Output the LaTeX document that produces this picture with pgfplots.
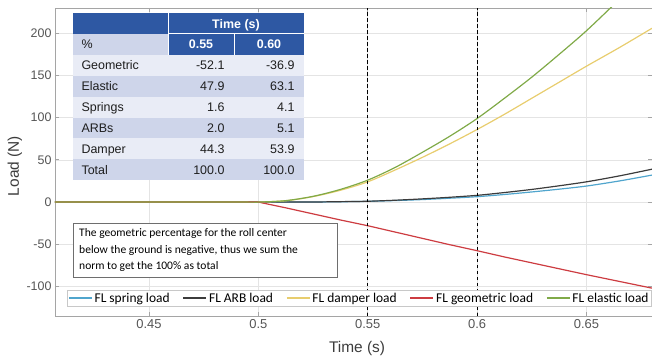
\documentclass[border=0pt]{standalone}
\usepackage{fontspec}
\setmainfont{Liberation Sans}
\newfontfamily\calfont{Carlito}
\usepackage{pgfplots}
\usepackage{pgfplotstable}
\pgfplotsset{compat=1.18}

\definecolor{cspring}{RGB}{80,165,205}
\definecolor{carb}{RGB}{60,60,60}
\definecolor{cdamper}{RGB}{232,205,110}
\definecolor{cgeo}{RGB}{205,60,65}
\definecolor{celastic}{RGB}{128,170,72}
\definecolor{gridc}{RGB}{228,228,228}
\definecolor{axc}{RGB}{165,165,165}
\definecolor{tickc}{RGB}{85,85,85}
\definecolor{labc}{RGB}{60,60,60}
\definecolor{legc}{RGB}{200,200,200}
\definecolor{hdr}{RGB}{46,88,163}
\definecolor{bandA}{RGB}{233,236,246}
\definecolor{bandB}{RGB}{206,213,234}
\definecolor{txt}{RGB}{30,30,30}
\definecolor{boxc}{RGB}{110,110,110}

\pgfplotstableread{
t v
0.407 0
0.49 0
0.5 0
0.5125 0.02
0.525 0.1
0.5375 0.4
0.55 0.9
0.5625 1.8
0.575 3.0
0.5875 4.6
0.6 6.4
0.6125 9.0
0.625 12.0
0.6375 15.3
0.65 19.0
0.665 25.0
0.68 32.0
}\spring

\pgfplotstableread{
t v
0.407 0
0.49 0
0.5 0
0.5125 0.02
0.525 0.1
0.5375 0.5
0.55 1.0
0.5625 2.2
0.575 3.8
0.5875 5.7
0.6 8.0
0.6125 11.3
0.625 15.0
0.6375 19.3
0.65 24.0
0.665 31.0
0.68 39.0
}\arb

\pgfplotstableread{
t v
0.407 0
0.49 0
0.5 0
0.5125 1.6
0.525 6.5
0.5375 14
0.55 24
0.5625 38
0.575 53
0.5875 69
0.6 86
0.6125 104
0.625 123
0.6375 142
0.65 161
0.665 183
0.68 206
}\damper

\pgfplotstableread{
t v
0.407 0
0.5 0
0.5125 -6.8
0.525 -14
0.5375 -21.2
0.55 -28
0.5625 -35.5
0.575 -43
0.5875 -50.5
0.6 -57.6
0.6125 -65
0.625 -72
0.6375 -79
0.65 -86
0.665 -94
0.68 -102
}\geo

\pgfplotstableread{
t v
0.407 0
0.49 0
0.5 0
0.5125 1.7
0.525 6.8
0.5375 15
0.55 26
0.5625 41
0.575 59
0.5875 78
0.6 99
0.6125 123
0.625 148
0.6375 175
0.65 203
0.665 240
0.68 277
}\elastic

\begin{document}
\begin{tikzpicture}
\begin{axis}[
  at={(0,0)}, anchor=south west,
  scale only axis, width=597bp, height=308bp,
  xmin=0.407, xmax=0.68, ymin=-135, ymax=230,
  xtick={0.45,0.5,0.55,0.6,0.65},
  xticklabels={0.45,0.5,0.55,0.6,0.65},
  ytick={-100,-50,0,50,100,150,200},
  grid=major,
  grid style={color=gridc, line width=0.6bp},
  axis line style={color=axc, line width=0.8bp},
  tick style={color=axc, line width=0.8bp},
  major tick length=4bp,
  tick align=inside,
  /pgf/number format/assume math mode=true,
  xticklabel style={font=\fontsize{13}{15}\selectfont, text=tickc},
  yticklabel style={font=\fontsize{12.5}{15}\selectfont, text=tickc},
  xlabel={Time (s)}, ylabel={Load (N)},
  label style={font=\fontsize{15.5}{17}\selectfont, text=labc},
  xlabel style={at={(axis description cs:0.506,-0.104)}, anchor=center},
  ylabel style={at={(axis description cs:-0.067,0.487)}, anchor=center},
  legend columns=5,
  legend style={at={(0.0201,0.0844)}, anchor=north west, draw=legc, fill=white,
    font=\calfont\fontsize{13.5}{14}\selectfont,
    inner xsep=1bp, inner ysep=0.5bp,
    /tikz/every even column/.append style={column sep=11bp}},
]
\addplot[draw=cspring, line width=1.2bp, smooth,
  legend image code/.code={\draw[cspring, line width=1.4bp] (0bp,0bp) -- (23bp,0bp);}] table[x=t,y=v]{\spring};
\addlegendentry{FL spring load}
\addplot[draw=carb, line width=1.2bp, smooth,
  legend image code/.code={\draw[carb, line width=1.4bp] (0bp,0bp) -- (23bp,0bp);}] table[x=t,y=v]{\arb};
\addlegendentry{FL ARB load}
\addplot[draw=cdamper, line width=1.2bp, smooth,
  legend image code/.code={\draw[cdamper, line width=1.4bp] (0bp,0bp) -- (23bp,0bp);}] table[x=t,y=v]{\damper};
\addlegendentry{FL damper load}
\addplot[draw=cgeo, line width=1.2bp,
  legend image code/.code={\draw[cgeo, line width=1.4bp] (0bp,0bp) -- (23bp,0bp);}] table[x=t,y=v]{\geo};
\addlegendentry{FL geometric load}
\addplot[draw=celastic, line width=1.2bp, smooth,
  legend image code/.code={\draw[celastic, line width=1.4bp] (0bp,0bp) -- (23bp,0bp);}] table[x=t,y=v]{\elastic};
\addlegendentry{FL elastic load}
\addplot[black, line width=1bp, dash pattern=on 3.5bp off 2.5bp, forget plot] coordinates {(0.55,-135) (0.55,230)};
\addplot[black, line width=1bp, dash pattern=on 3.5bp off 2.5bp, forget plot] coordinates {(0.6,-135) (0.6,230)};
\end{axis}

\begin{scope}[x=1bp, y=1bp, font=\fontsize{12.5}{14}\selectfont]
% table backgrounds
\fill[hdr] (18,303) rectangle (249,282.1);
\fill[bandB] (18,282.1) rectangle (113,261.2);
\fill[hdr] (113,282.1) rectangle (249,261.2);
\fill[bandA] (18,261.2) rectangle (249,240.3);
\fill[bandB] (18,240.3) rectangle (249,219.4);
\fill[bandA] (18,219.4) rectangle (249,198.5);
\fill[bandB] (18,198.5) rectangle (249,177.6);
\fill[bandA] (18,177.6) rectangle (249,156.7);
\fill[bandB] (18,156.7) rectangle (249,135.8);
\draw[white, line width=1bp] (113,303) -- (113,261.2);
\draw[white, line width=1bp] (179,282.1) -- (179,261.2);
\draw[white, line width=1bp] (113,282.1) -- (249,282.1);
% header text
\node[anchor=base, text=white, font=\bfseries\fontsize{12.5}{14}\selectfont] at (181,288.0) {Time (s)};
\node[anchor=base west, text=txt] at (23,267.1) {\%};
\node[anchor=base, text=white, font=\bfseries\fontsize{12.5}{14}\selectfont] at (146,267.1) {0.55};
\node[anchor=base, text=white, font=\bfseries\fontsize{12.5}{14}\selectfont] at (214,267.1) {0.60};
% body rows
\node[anchor=base west, text=txt] at (23,246.2) {Geometric};
\node[anchor=base east, text=txt] at (173,246.2) {-52.1};
\node[anchor=base east, text=txt] at (243,246.2) {-36.9};
\node[anchor=base west, text=txt] at (23,225.3) {Elastic};
\node[anchor=base east, text=txt] at (173,225.3) {47.9};
\node[anchor=base east, text=txt] at (243,225.3) {63.1};
\node[anchor=base west, text=txt] at (23,204.4) {Springs};
\node[anchor=base east, text=txt] at (173,204.4) {1.6};
\node[anchor=base east, text=txt] at (243,204.4) {4.1};
\node[anchor=base west, text=txt] at (23,183.5) {ARBs};
\node[anchor=base east, text=txt] at (173,183.5) {2.0};
\node[anchor=base east, text=txt] at (243,183.5) {5.1};
\node[anchor=base west, text=txt] at (23,162.6) {Damper};
\node[anchor=base east, text=txt] at (173,162.6) {44.3};
\node[anchor=base east, text=txt] at (243,162.6) {53.9};
\node[anchor=base west, text=txt] at (23,141.7) {Total};
\node[anchor=base east, text=txt] at (173,141.7) {100.0};
\node[anchor=base east, text=txt] at (243,141.7) {100.0};
% annotation box
\draw[boxc, line width=1bp, fill=white] (18,93) rectangle (282,39);
\begin{scope}[font=\calfont\fontsize{11.6}{14}\selectfont]
\node[anchor=base west, text=black, inner sep=0pt] at (24,80) {The geometric percentage for the roll center};
\node[anchor=base west, text=black, inner sep=0pt] at (24,62.7) {below the ground is negative, thus we sum the};
\node[anchor=base west, text=black, inner sep=0pt] at (24,46.7) {norm to get the 100\% as total};
\end{scope}
\pgfresetboundingbox
\path (-55,-40) rectangle (597,316);
\end{scope}
\end{tikzpicture}
\end{document}
